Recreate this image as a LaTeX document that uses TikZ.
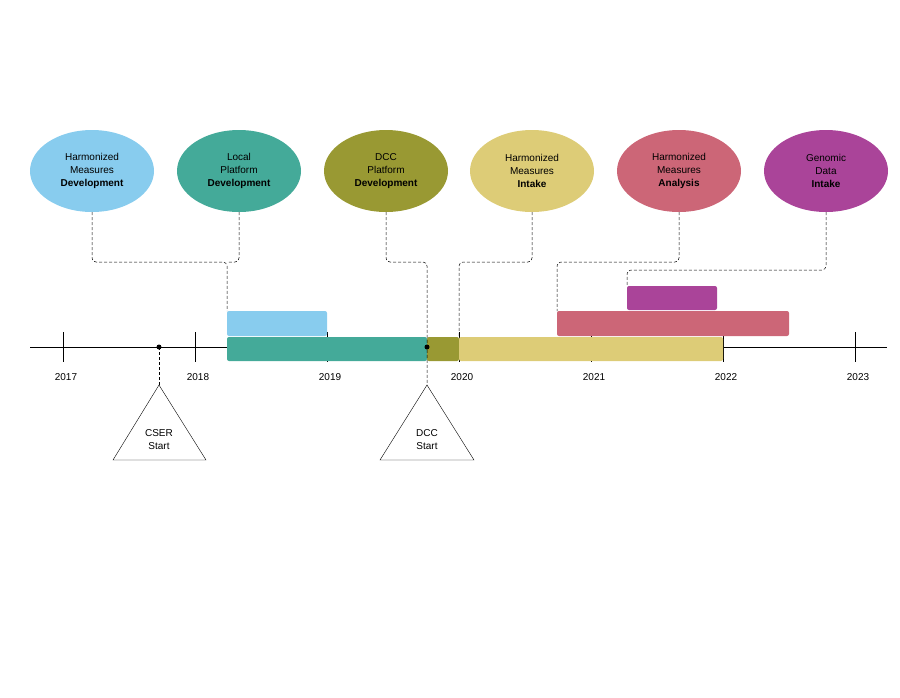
\documentclass[tikz,border=0pt]{standalone}
\usepackage{fontspec}
\setmainfont{Liberation Sans}
\usetikzlibrary{positioning, shapes}
\definecolor{tolcyan}{HTML}{88CCEE}
\definecolor{tolteal}{HTML}{44AA99}
\definecolor{tololive}{HTML}{999933}
\definecolor{tolsand}{HTML}{DDCC77}
\definecolor{tolrose}{HTML}{CC6677}
\definecolor{tolpurple}{HTML}{AA4499}
\tikzset{
    phase/.style={ellipse, minimum width=124pt, minimum height=82pt, align=center, font=\fontsize{10}{13}\selectfont, inner sep=0pt},
    bar/.style={rounded corners=2pt},
    link/.style={densely dashed, rounded corners=4pt, line width=0.5pt},
    mark/.style={draw, regular polygon, regular polygon sides=3, minimum size=0pt, font=\fontsize{10}{13}\selectfont}
}
\begin{document}
\begin{tikzpicture}[x=1pt, y=-1pt]
    \useasboundingbox (0,0) rectangle (900,697);

    % Time axis
    \draw (30,347) -- (887,347);
    \foreach \yr [count=\i from 0] in {2017,...,2023} {
        \draw (63+132*\i,332) -- (63+132*\i,362);
        \node[font=\fontsize{10}{12}\selectfont] at (66+132*\i,377) {\yr};
    }

    % Bars
    \fill[tolcyan, bar] (227,311) rectangle (327,336);
    \fill[tolteal, bar] (227,337) rectangle (427,361);
    \fill[tololive, bar] (427,337) rectangle (459,361);
    \fill[tolsand, bar] (459,337) rectangle (723,361);
    \fill[tolrose, bar] (557,311) rectangle (789,336);
    \fill[tolpurple, bar] (627,286) rectangle (717,310);

    % Phases
    \node[phase, fill=tolcyan] (hmdev) at (92,171) {Harmonized\\Measures\\\textbf{Development}};
    \node[phase, fill=tolteal] (lpdev) at (239,171) {Local\\Platform\\\textbf{Development}};
    \node[phase, fill=tololive] (dccdev) at (386,171) {DCC\\Platform\\\textbf{Development}};
    \node[phase, fill=tolsand] (hmin) at (532,171) {Harmonized\\Measures\\\textbf{Intake}};
    \node[phase, fill=tolrose] (hman) at (679,171) {Harmonized\\Measures\\\textbf{Analysis}};
    \node[phase, fill=tolpurple] (gdin) at (826,171) {Genomic\\Data\\\textbf{Intake}};

    % Milestones
    \coordinate (cserdot) at (159,347);
    \coordinate (dccdot) at (427,347);
    \fill (cserdot) circle (2.5pt);
    \fill (dccdot) circle (2.5pt);
    \draw (159,385) -- (206,460) -- (113,460) -- cycle;
    \draw (427,385) -- (474,460) -- (380,460) -- cycle;
    \node[align=center, font=\fontsize{10}{13}\selectfont] (cser) at (159,440) {CSER\\Start};
    \node[align=center, font=\fontsize{10}{13}\selectfont] (dcc) at (427,440) {DCC\\Start};

    % Connectors
    \draw[link] (hmdev.south) |- (227,262) -- (227,311);
    \draw[link] (lpdev.south) |- (227,262);
    \draw[link] (dccdev.south) |- (427,262) -- (427,385);
    \draw[link] (hmin.south) |- (459,262) -- (459,337);
    \draw[link] (hman.south) |- (557,262) -- (557,311);
    \draw[link] (gdin.south) |- (627,270) -- (627,286);
    \draw[link] (cserdot) -- (159,385);
\end{tikzpicture}
\end{document}
